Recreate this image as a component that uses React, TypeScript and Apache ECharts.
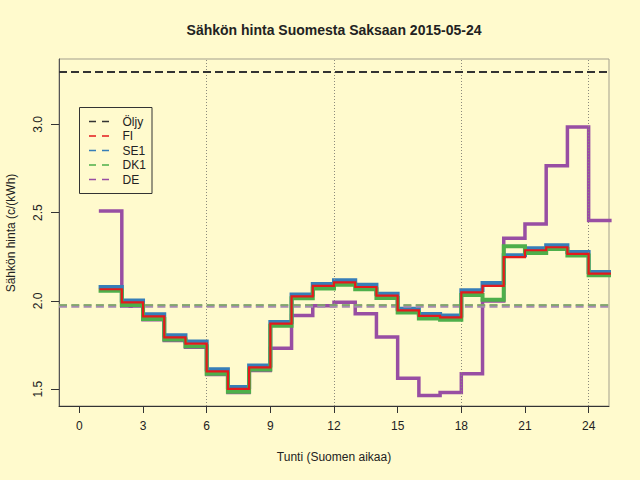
import React, { useEffect, useRef } from "react";
import * as echarts from "echarts";

const hours = [1, 2, 3, 4, 5, 6, 7, 8, 9, 10, 11, 12, 13, 14, 15, 16, 17, 18, 19, 20, 21, 22, 23, 24];
const lastHourEnd = 25;
const xTicks = [0, 3, 6, 9, 12, 15, 18, 21, 24];
const yTicks = [1.5, 2.0, 2.5, 3.0];
const gridHours = [6, 12, 18, 24];

const fi = [2.066, 1.992, 1.913, 1.794, 1.758, 1.601, 1.502, 1.624, 1.871, 2.026, 2.085, 2.105, 2.079, 2.03, 1.947, 1.915, 1.907, 2.049, 2.085, 2.248, 2.287, 2.304, 2.266, 2.155];
const se1 = [2.079, 2.002, 1.924, 1.805, 1.77, 1.613, 1.513, 1.635, 1.881, 2.037, 2.096, 2.117, 2.091, 2.041, 1.956, 1.926, 1.918, 2.06, 2.102, 2.259, 2.298, 2.315, 2.277, 2.164];
const dk1 = [2.057, 1.977, 1.898, 1.781, 1.743, 1.588, 1.486, 1.611, 1.86, 2.015, 2.071, 2.092, 2.066, 2.017, 1.935, 1.901, 1.894, 2.034, 2.007, 2.31, 2.272, 2.294, 2.257, 2.145];
const de = [2.509, 1.97, 1.893, 1.776, 1.738, 1.583, 1.481, 1.606, 1.732, 1.917, 1.973, 1.992, 1.928, 1.796, 1.562, 1.465, 1.481, 1.587, 2.0, 2.355, 2.436, 2.766, 2.985, 2.456];

const oilPrice = 3.3;
const meanDK1 = 1.979;
const meanDE = 1.971;

const legendNames = ["Öljy", "FI", "SE1", "DK1", "DE"];
const legendColors = ["#333333", "#e41a1c", "#377eb8", "#4daf4a", "#984ea3"];

const FONT = "Liberation Sans, Arial, Helvetica, sans-serif";

function steps(vals: number[]) {
  const d = hours.map((h, i) => [h, vals[i]]);
  d.push([lastHourEnd, vals[vals.length - 1]]);
  return d;
}

export default function App() {
  const ref = useRef<HTMLDivElement>(null);
  useEffect(() => {
    document.body.style.margin = "0";
    const chart = echarts.init(ref.current!, null, { renderer: "svg" });
    const stepSeries = (name: string, vals: number[], color: string, width: number, z: number) => ({
      name,
      type: "line",
      step: "end",
      data: steps(vals),
      showSymbol: false,
      symbol: "none",
      lineStyle: { color, width, cap: "square", join: "miter" },
      z,
      silent: true,
    });
    const legendGraphics: any[] = [
      {
        type: "rect",
        shape: { x: 79.5, y: 107.5, width: 72.5, height: 86 },
        style: { fill: "none", stroke: "#333", lineWidth: 1 },
        z: 100,
      },
    ];
    legendNames.forEach((n, i) => {
      const y = 121.5 + i * 14.5;
      legendGraphics.push({
        type: "line",
        shape: { x1: 89, y1: y, x2: 109, y2: y },
        style: { stroke: legendColors[i], lineWidth: 1.5, lineDash: [7, 6] },
        z: 100,
      });
      legendGraphics.push({
        type: "text",
        x: 122.5,
        y,
        style: { text: n, fill: "#222", font: `12px ${FONT}`, textAlign: "left", textVerticalAlign: "middle" },
        z: 100,
      });
    });
    chart.setOption({
      animation: false,
      backgroundColor: "#fffacd",
      textStyle: { fontFamily: FONT },
      grid: { left: 59, right: 31, top: 59, bottom: 74, show: true, borderColor: "#a39f8d", borderWidth: 1 },
      xAxis: {
        type: "value",
        min: -0.96,
        max: 24.96,
        axisLine: { show: true, onZero: false, lineStyle: { color: "#333", width: 1 } },
        axisTick: { show: true, customValues: xTicks, length: 7, lineStyle: { color: "#333" } },
        axisLabel: { customValues: xTicks, color: "#222", fontSize: 12, margin: 14, fontFamily: FONT },
        splitLine: { show: false },
      },
      yAxis: {
        type: "value",
        min: 1.405,
        max: 3.37,
        axisLine: { show: true, onZero: false, lineStyle: { color: "#555", width: 1 } },
        axisTick: { show: true, customValues: yTicks, length: 8, lineStyle: { color: "#333" } },
        axisLabel: {
          customValues: yTicks,
          color: "#222",
          fontSize: 12,
          rotate: 90,
          margin: 15,
          fontFamily: FONT,
          formatter: (v: number) => v.toFixed(1),
        },
        splitLine: { show: false },
      },
      graphic: [
        {
          type: "text",
          x: 334,
          y: 30,
          style: { text: "Sähkön hinta Suomesta Saksaan 2015-05-24", fill: "#222", font: `bold 14px ${FONT}`, textAlign: "center", textVerticalAlign: "middle" },
        },
        {
          type: "text",
          x: 334,
          y: 457,
          style: { text: "Tunti (Suomen aikaa)", fill: "#222", font: `12px ${FONT}`, textAlign: "center", textVerticalAlign: "middle" },
        },
        {
          type: "text",
          x: 11,
          y: 233,
          rotation: Math.PI / 2,
          style: { text: "Sähkön hinta (c/(kWh)", fill: "#222", font: `12px ${FONT}`, textAlign: "center", textVerticalAlign: "middle" },
        },
        ...legendGraphics,
      ],
      series: [
        {
          type: "line",
          data: [],
          z: 1,
          silent: true,
          markLine: {
            silent: true,
            symbol: "none",
            label: { show: false },
            lineStyle: { color: "#8c8a7c", type: [1, 2], width: 1 },
            data: gridHours.map((h) => ({ xAxis: h })),
          },
        },
        {
          type: "line",
          data: [],
          z: 2,
          silent: true,
          markLine: {
            silent: true,
            symbol: "none",
            label: { show: false },
            data: [
              { yAxis: oilPrice, lineStyle: { color: "#333333", type: [8, 4], width: 2 } },
              { yAxis: meanDE, lineStyle: { color: "#a58bb0", type: [8, 4.3], width: 2.5, opacity: 1 } },
              { yAxis: meanDK1, lineStyle: { color: "#7ea469", type: [8, 4.3], width: 2, opacity: 0.9 } },
            ],
          },
        },
        stepSeries("DE", de, "#984ea3", 3.5, 3),
        stepSeries("SE1", se1, "#377eb8", 4, 4),
        stepSeries("DK1", dk1, "#4daf4a", 4, 5),
        stepSeries("FI", fi, "#e41a1c", 2.2, 6),
      ],
    });
    return () => chart.dispose();
  }, []);
  return <div ref={ref} style={{ width: 640, height: 480 }} />;
}
